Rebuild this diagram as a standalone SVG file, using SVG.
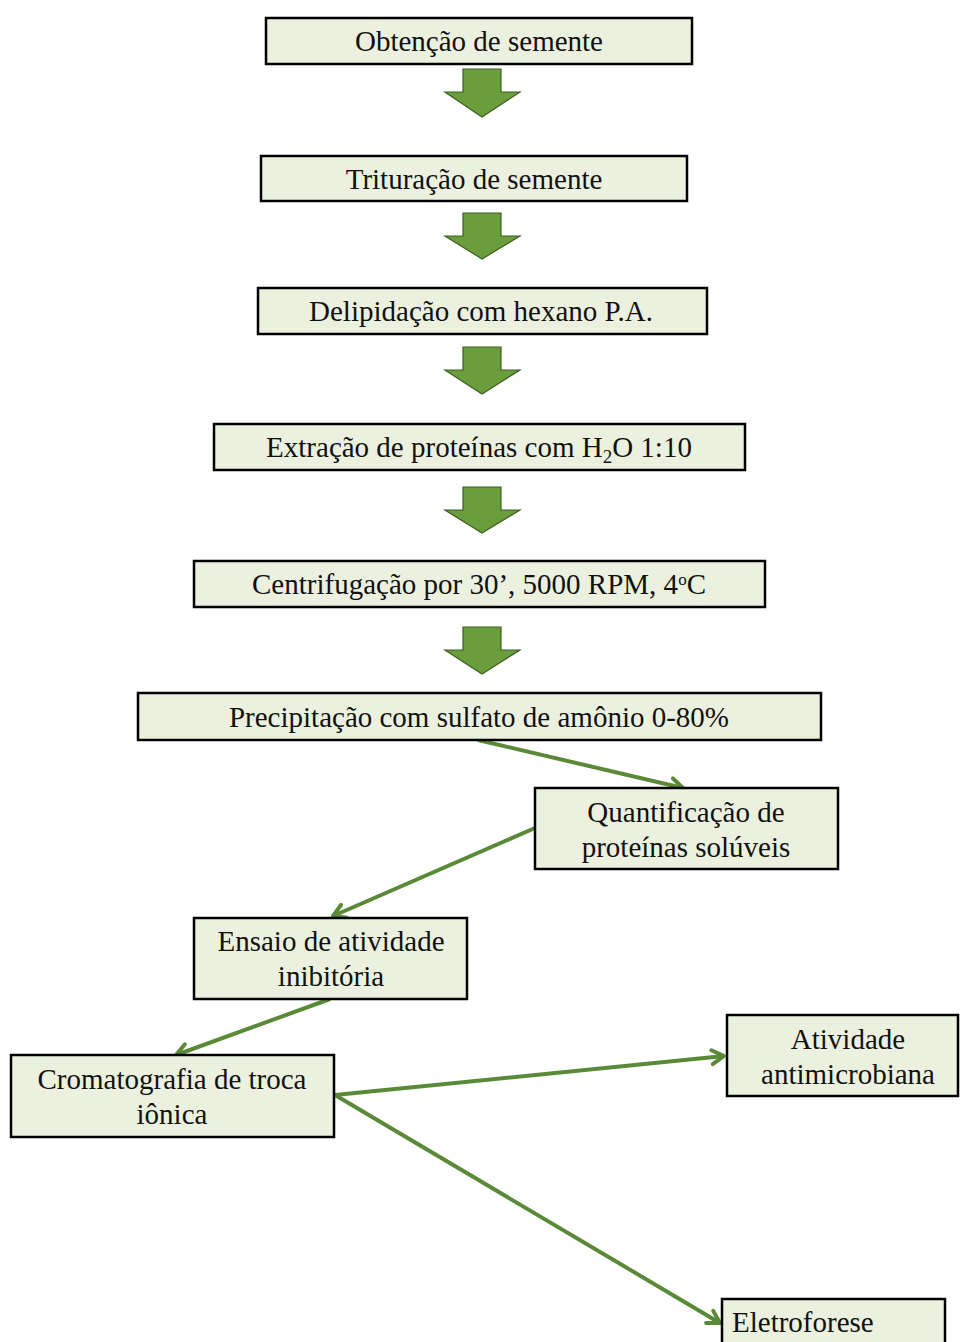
<svg xmlns="http://www.w3.org/2000/svg" width="960" height="1342" viewBox="0 0 960 1342">
<defs>
<style>
.box{fill:#ebf1de;stroke:#000;stroke-width:2.5}
.t{font-family:"Liberation Serif","Times New Roman",serif;font-size:29px;fill:#111;text-anchor:middle}
.ts{text-anchor:start}
.blk{fill:#6a9e3c;stroke:#3d5e22;stroke-width:1.2}
.con{stroke:#5a8a38;stroke-width:4;fill:none;marker-end:url(#ah)}
</style>
<marker id="ah" markerUnits="userSpaceOnUse" markerWidth="20" markerHeight="20" viewBox="0 0 20 20" refX="17" refY="10" orient="auto">
<path d="M5,3 L17,10 L5,17" fill="none" stroke="#5a8a38" stroke-width="4" stroke-linecap="round" stroke-linejoin="round"/>
</marker>
</defs>
<rect width="960" height="1342" fill="#fff"/>
<g id="connectors">
<polygon class="blk" points="463,69 501,69 501,92 520,92 482,117 445,92 463,92"/>
<polygon class="blk" points="463,213 501,213 501,236 520,236 482,259 445,236 463,236"/>
<polygon class="blk" points="463,347 501,347 501,370 520,370 482,394 445,370 463,370"/>
<polygon class="blk" points="463,487 501,487 501,510 520,510 482,533 445,510 463,510"/>
<polygon class="blk" points="463,627 501,627 501,650 520,650 482,674 445,650 463,650"/>
<line class="con" x1="478" y1="740" x2="683" y2="788"/>
<line class="con" x1="535" y1="828" x2="333" y2="916"/>
<line class="con" x1="330" y1="999" x2="176" y2="1055"/>
<line class="con" x1="335" y1="1095" x2="724" y2="1056"/>
<line class="con" x1="335" y1="1095" x2="720" y2="1323"/>
</g>
<g id="n1"><rect class="box" x="266" y="18" width="426" height="46"/><text class="t" x="479" y="51">Obtenção de semente</text></g>
<g id="n2"><rect class="box" x="261" y="156" width="426" height="45"/><text class="t" x="474" y="189">Trituração de semente</text></g>
<g id="n3"><rect class="box" x="258" y="288" width="449" height="46"/><text class="t" x="481" y="321">Delipidação com hexano P.A.</text></g>
<g id="n4"><rect class="box" x="214" y="424" width="531" height="46"/><text class="t" x="479" y="457">Extração de proteínas com H<tspan font-size="19" dy="6">2</tspan><tspan dy="-6">O 1:10</tspan></text></g>
<g id="n5"><rect class="box" x="194" y="561" width="571" height="46"/><text class="t" x="479" y="594">Centrifugação por 30’, 5000 RPM, 4<tspan font-size="17" dy="-9">o</tspan><tspan dy="9">C</tspan></text></g>
<g id="n6"><rect class="box" x="138" y="693" width="683" height="47"/><text class="t" x="479" y="727">Precipitação com sulfato de amônio 0-80%</text></g>
<g id="n7"><rect class="box" x="535" y="788" width="303" height="81"/><text class="t" x="686" y="822">Quantificação de</text><text class="t" x="686" y="857">proteínas solúveis</text></g>
<g id="n8"><rect class="box" x="194" y="918" width="273" height="81"/><text class="t" x="331" y="951">Ensaio de atividade</text><text class="t" x="331" y="986">inibitória</text></g>
<g id="n9"><rect class="box" x="11" y="1055" width="323" height="82"/><text class="t" x="172" y="1089">Cromatografia de troca</text><text class="t" x="172" y="1124">iônica</text></g>
<g id="n10"><rect class="box" x="727" y="1015" width="231" height="81"/><text class="t" x="848" y="1049">Atividade</text><text class="t" x="848" y="1084">antimicrobiana</text></g>
<g id="n11"><rect class="box" x="722" y="1299" width="223" height="60"/><text class="t ts" x="732" y="1332">Eletroforese</text></g>
</svg>
